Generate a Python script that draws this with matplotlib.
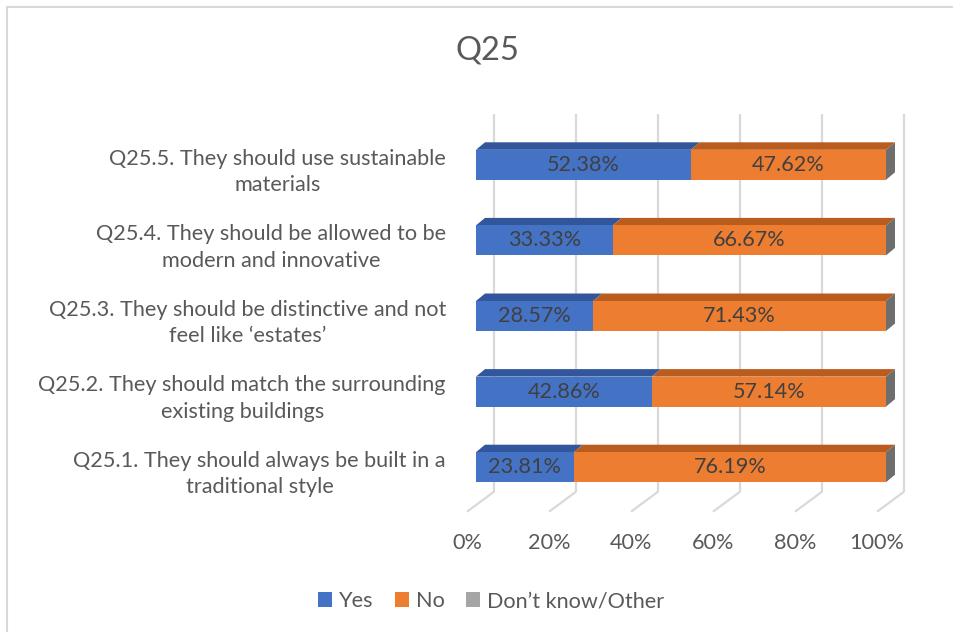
import matplotlib
matplotlib.use("Agg")
import matplotlib.pyplot as plt
from matplotlib.patches import Polygon, Patch
from matplotlib.lines import Line2D

plt.rcParams['font.family'] = ['Lato', 'DejaVu Sans']

categories = [
    "Q25.1. They should always be built in a\ntraditional style",
    "Q25.2. They should match the surrounding\nexisting buildings",
    "Q25.3. They should be distinctive and not\nfeel like \u2018estates\u2019",
    "Q25.4. They should be allowed to be\nmodern and innovative",
    "Q25.5. They should use sustainable\nmaterials",
]
yes = [23.81, 42.86, 28.57, 33.33, 52.38]
no = [76.19, 57.14, 71.43, 66.67, 47.62]
dk = [0.0, 0.0, 0.0, 0.0, 0.0]
series_names = ["Yes", "No", "Don\u2019t know/Other"]
xticks = [0, 20, 40, 60, 80, 100]
xtick_labels = ["0%", "20%", "40%", "60%", "80%", "100%"]
title = "Q25"

front_colors = ["#4472C4", "#ED7D31", "#A5A5A5"]
top_colors = ["#31569B", "#B95C1E", "#7E7E7E"]
side_colors = ["#2C4D8A", "#A65219", "#6E6E6E"]
grid_color = "#D9D9D9"
text_color = "#595959"
label_color = "#404040"

FS = 15.6

W, H, DPI = 954, 632, 100
fig = plt.figure(figsize=(W / DPI, H / DPI), dpi=DPI)

# axes box in pixels (front plane of bars)
L_px, R_px, T_px, B_px = 476, 886, 127, 505
ax = fig.add_axes([L_px / W, 1 - B_px / H, (R_px - L_px) / W, (B_px - T_px) / H])
ax.set_xlim(0, 100)
ax.set_ylim(-0.5, 4.5)
ax.axis("off")

sx = 100.0 / (R_px - L_px)   # data units per pixel (x)
sy = 5.0 / (B_px - T_px)     # data units per pixel (y)

def off(px, py):
    return px * sx, py * sy

bar_h = 30 * sy
bar_dx, bar_dy = off(9, 7.5)
back_dx, back_dy = off(18, 13.3)
front_dx, front_dy = off(-9, -6.7)

# back wall gridlines and floor lines
for v in xticks:
    ax.plot([v + back_dx, v + back_dx], [-0.5 + back_dy, 4.5 + back_dy],
            color=grid_color, lw=1.6, clip_on=False, zorder=1, solid_capstyle="butt")
    ax.plot([v + back_dx, v + front_dx], [-0.5 + back_dy, -0.5 + front_dy],
            color=grid_color, lw=1.6, clip_on=False, zorder=1, solid_capstyle="butt")

# bars
series = [yes, no, dk]
n = len(categories)
for i in range(n):
    left = 0.0
    y0 = i - bar_h / 2
    y1 = i + bar_h / 2
    for s, vals in enumerate(series):
        w = vals[i]
        if w <= 0:
            continue
        ax.barh(i, w, left=left, height=bar_h, color=front_colors[s], zorder=3, linewidth=0)
        top = Polygon([(left, y1), (left + w, y1), (left + w + bar_dx, y1 + bar_dy),
                       (left + bar_dx, y1 + bar_dy)], closed=True,
                      facecolor=top_colors[s], edgecolor="none", zorder=2, clip_on=False)
        ax.add_patch(top)
        left += w
    # side face at the end (belongs to last series)
    side = Polygon([(left, y0), (left, y1), (left + bar_dx, y1 + bar_dy), (left + bar_dx, y0 + bar_dy)],
                   closed=True, facecolor=side_colors[2], edgecolor="none", zorder=2, clip_on=False)
    ax.add_patch(side)
    # data labels
    ax.text(yes[i] / 2, i, f"{yes[i]:.2f}%", ha="center", va="center",
            fontsize=FS, color=label_color, zorder=5)
    ax.text(yes[i] + no[i] / 2, i, f"{no[i]:.2f}%", ha="center", va="center",
            fontsize=FS, color=label_color, zorder=5)
    # category label
    ax.annotate(categories[i], xy=(0, i), xytext=(-30, -7), textcoords="offset pixels",
                ha="right", va="center", multialignment="center", fontsize=FS,
                color=text_color, linespacing=1.4, annotation_clip=False)

# x tick labels under floor front
for v, lab in zip(xticks, xtick_labels):
    ax.annotate(lab, xy=(v, -0.5), xytext=(-9, -38), textcoords="offset pixels",
                ha="center", va="center", fontsize=FS, color=text_color, annotation_clip=False)

fig.text(487 / W, 1 - 50 / H, title, ha="center", va="center", fontsize=23.5, color=text_color)

handles = [Patch(facecolor=c, edgecolor="none") for c in front_colors]
fig.legend(handles, series_names, loc="center", bbox_to_anchor=(491 / W, 1 - 601 / H),
           ncol=3, frameon=False, fontsize=FS, handlelength=0.65, handleheight=0.65,
           handletextpad=0.3, columnspacing=1.0, labelcolor=text_color)

# chart border
fig.add_artist(Line2D([7 / W, 7 / W], [0, 1 - 7 / H], color=grid_color, lw=1.5))
fig.add_artist(Line2D([7 / W, 1], [1 - 7 / H, 1 - 7 / H], color=grid_color, lw=1.5))

fig.savefig("out.png", dpi=DPI, facecolor="white")
